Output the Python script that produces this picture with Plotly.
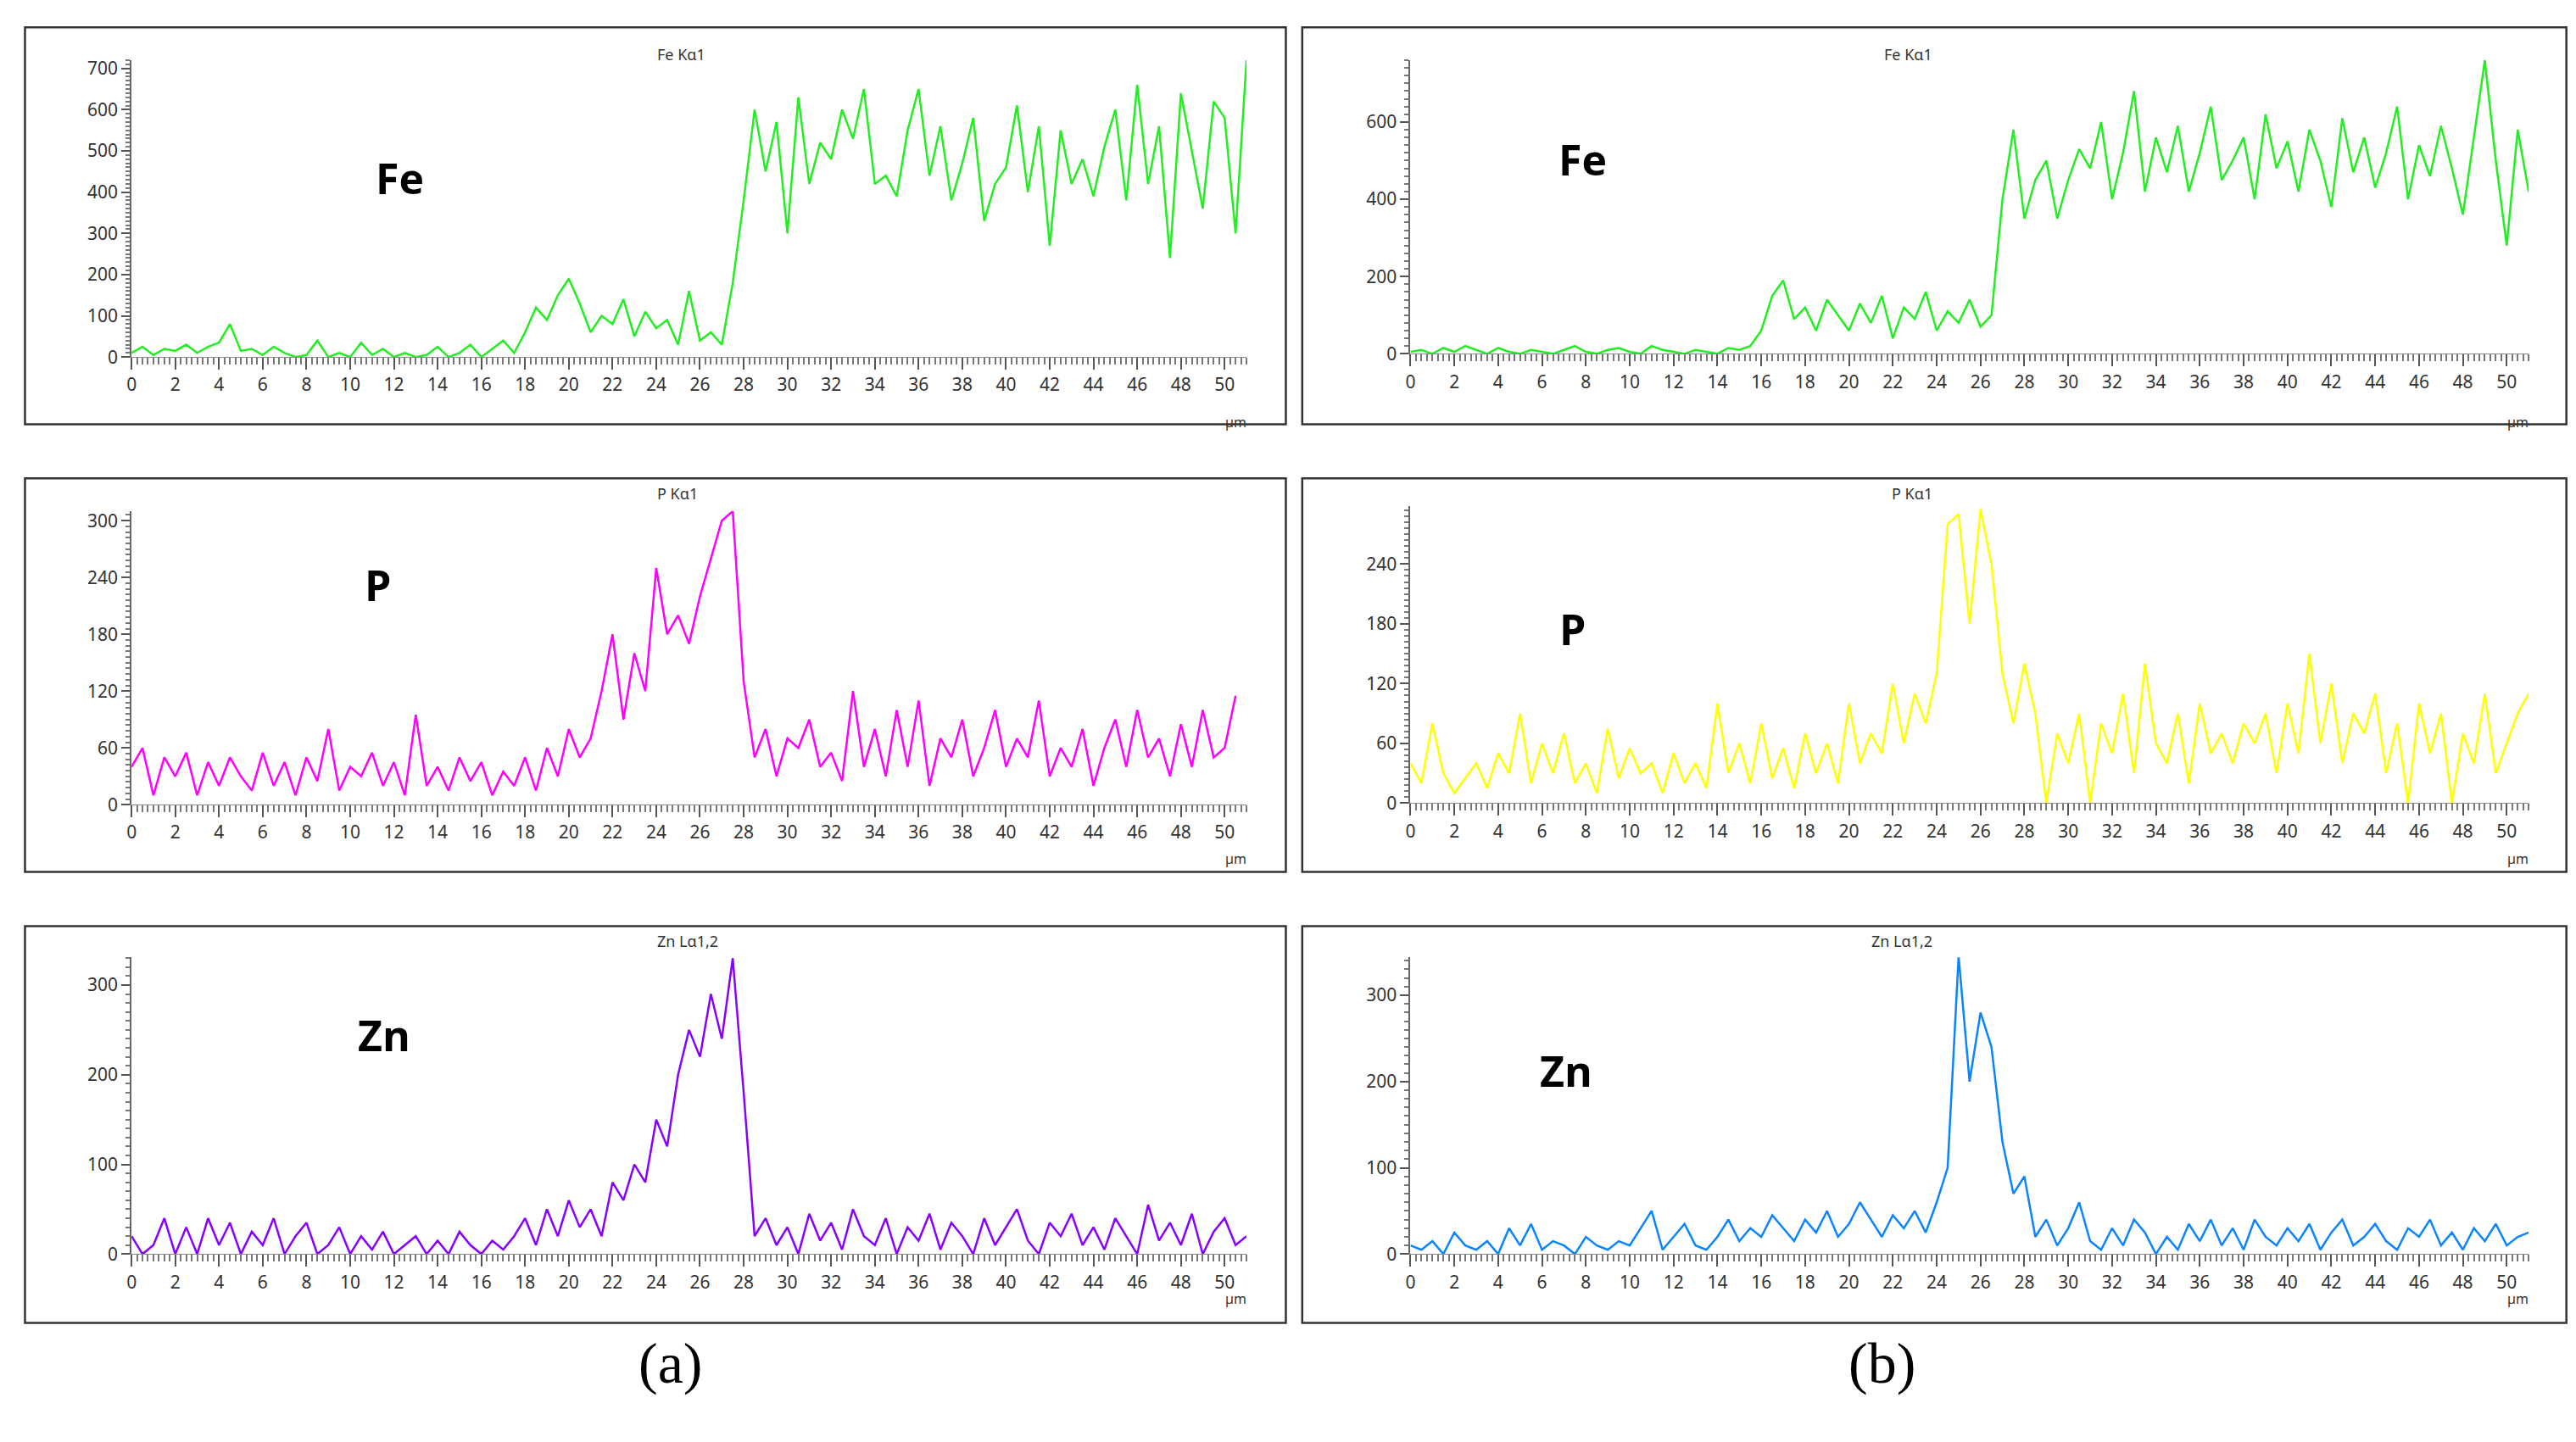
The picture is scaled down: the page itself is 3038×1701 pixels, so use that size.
import numpy as np
import plotly.graph_objects as go

fe_a = [10,25,5,20,15,30,10,25,35,80,15,20,5,25,10,0,5,40,0,10,0,35,5,20,0,10,0,5,25,0,10,30,0,20,40,10,
        60,120,90,150,190,130,60,100,80,140,50,110,70,90,30,160,40,60,30,180,
        380,600,450,570,300,630,420,520,480,600,530,650,420,440,390,550,650,440,560,380,470,580,330,420,
        460,610,400,560,270,550,420,480,390,510,600,380,660,420,560,240,640,500,360,620,580,300,720,420]
fe_b = [5,10,0,15,5,20,10,0,15,5,0,10,5,0,10,20,5,0,10,15,5,0,20,10,5,0,10,5,0,15,10,20,
        60,150,190,90,120,60,140,100,60,130,80,150,40,120,90,160,60,110,80,140,70,100,
        400,580,350,450,500,350,450,530,480,600,400,520,680,420,560,470,590,420,520,640,450,500,560,400,
        620,480,550,420,580,500,380,610,470,560,430,520,640,400,540,460,590,480,360,560,760,500,280,580,420,470]
p_a = [40,60,10,50,30,55,10,45,20,50,30,15,55,20,45,10,50,25,80,15,40,30,55,20,45,10,95,20,40,15,50,25,45,10,35,20,50,15,60,30,
       80,50,70,120,180,90,160,120,250,180,200,170,220,260,300,310,
       130,50,80,30,70,60,90,40,55,25,120,40,80,30,100,40,110,20,70,50,90,30,60,100,40,70,50,110,30,60,40,80,20,60,90,40,100,50,70,30,85,40,100,50,60,115]
p_b = [40,20,80,30,10,25,40,15,50,30,90,20,60,30,70,20,40,10,75,25,55,30,40,10,50,20,40,15,100,30,60,20,80,25,55,15,70,30,60,20,
       100,40,70,50,120,60,110,80,130,
       280,290,180,295,240,
       130,80,140,90,
       0,70,40,90,0,80,50,110,30,140,60,40,90,20,100,50,70,40,80,60,90,30,100,50,150,60,120,40,90,70,110,30,80,0,100,50,90,0,70,40,110,30,60,90,110]
zn_a = [20,0,10,40,0,30,0,40,10,35,0,25,10,40,0,20,35,0,10,30,0,20,5,25,0,10,20,0,15,0,25,10,0,15,5,20,
        40,10,50,20,60,30,50,20,
        80,60,100,80,
        150,120,200,250,220,290,240,330,
        180,
        20,40,10,30,0,45,15,35,5,50,20,10,40,0,30,15,45,5,35,20,0,40,10,30,50,15,0,35,20,45,10,30,5,40,20,0,55,15,35,10,45,0,25,40,10,20]
zn_b = [10,5,15,0,25,10,5,15,0,30,10,35,5,15,10,0,20,10,5,15,10,30,50,5,20,35,10,5,20,40,15,30,20,45,30,15,40,25,50,20,35,60,40,20,45,30,50,25,
        60,100,
        345,200,280,240,
        130,70,90,20,
        40,10,30,60,15,5,30,10,40,25,0,20,5,35,15,40,10,30,5,40,20,10,30,15,35,5,25,40,10,20,35,15,5,30,20,40,10,25,5,30,15,35,10,20,25]

titles = ["Fe Kα1", "P Kα1", "Zn Lα1,2"]
elements = ["Fe", "P", "Zn"]
series = [[fe_a, fe_b], [p_a, p_b], [zn_a, zn_b]]
colors = [["#22EE22", "#22EE22"], ["#FF00FF", "#FFFF00"], ["#8800FF", "#0A84FF"]]
y_ranges = [[720, 760], [310, 298], [331, 344]]
y_dticks = [[100, 200], [60, 60], [100, 100]]

W, H = 1568.0, 870.0
col_px = [(73, 753), (853, 1535)]
row_px = [[(211, 30), (209, 30)], [(484, 305), (483, 302)], [(758, 577), (758, 577)]]
box_x = [(8, 777), (787, 1558)]
box_y = [(10, 252), (285, 525), (558, 800)]
label_pos = [[(221, 83), (958, 72)], [(214, 350), (952, 377)], [(210, 643), (948, 665)]]

fig = go.Figure()
layout = dict(width=3038, height=1701, margin=dict(l=0, r=0, t=0, b=0),
              paper_bgcolor="white", plot_bgcolor="white", showlegend=False)
shapes, annotations = [], []
tickfont = dict(family="Noto Sans", size=21, color="#333333")
k = 0
for r in range(3):
    for c in range(2):
        k += 1
        xs = "x" if k == 1 else f"x{k}"
        ys = "y" if k == 1 else f"y{k}"
        yvals = series[r][c]
        xvals = np.arange(len(yvals)) * 0.5
        fig.add_trace(go.Scatter(x=xvals, y=yvals, mode="lines",
                                 line=dict(color=colors[r][c], width=2.5),
                                 xaxis=xs, yaxis=ys))
        x0, x1 = col_px[c]
        yb, yt = row_px[r][c]
        layout["xaxis" if k == 1 else f"xaxis{k}"] = dict(
            domain=[x0 / W, x1 / W], range=[0, 51], anchor=ys,
            dtick=2, ticks="outside", ticklen=14, tickwidth=2, tickcolor="#555", showgrid=False,
            zeroline=False, showline=True, linecolor="#888", linewidth=1,
            tickfont=tickfont,
            minor=dict(dtick=0.25, ticks="outside", ticklen=8, tickwidth=1.5, tickcolor="#777", showgrid=False))
        layout["yaxis" if k == 1 else f"yaxis{k}"] = dict(
            domain=[1 - yb / H, 1 - yt / H], range=[0, y_ranges[r][c]], anchor=xs,
            dtick=y_dticks[r][c], ticks="outside", ticklen=10, tickwidth=2, tickcolor="#555",
            showgrid=False, zeroline=False, showline=True, linecolor="#666",
            linewidth=2, tickfont=tickfont,
            minor=dict(dtick=y_dticks[r][c] / 10, ticks="outside", ticklen=5, tickwidth=1.5,
                       tickcolor="#777", showgrid=False))
        bx0, bx1 = box_x[c]
        by0, by1 = box_y[r]
        shapes.append(dict(type="rect", xref="paper", yref="paper",
                           x0=bx0 / W, x1=bx1 / W, y0=1 - by1 / H, y1=1 - by0 / H,
                           line=dict(color="#333", width=2.5)))
        annotations.append(dict(text=titles[r], xref="paper", yref="paper",
                                x=(bx0 + bx1) / 2 / W, y=1 - (by0 + 9) / H,
                                showarrow=False, font=dict(family="Noto Sans", size=18, color="#333")))
        annotations.append(dict(text="µm", xref="paper", yref="paper",
                                x=(x1 + 1) / W, y=1 - (by1 - 8) / H, xanchor="right",
                                showarrow=False, font=dict(family="Noto Sans", size=16, color="#333")))
        lx, ly = label_pos[r][c]
        annotations.append(dict(text="<b>" + elements[r] + "</b>", xref="paper", yref="paper",
                                x=lx / W, y=1 - ly / H, showarrow=False,
                                font=dict(family="Open Sans", size=50, color="black")))
for txt, xp in [("(a)", 381), ("(b)", 1162)]:
    annotations.append(dict(text=txt, xref="paper", yref="paper", x=xp / W, y=1 - 845 / H,
                            showarrow=False, font=dict(family="Liberation Serif", size=68, color="black")))
layout["shapes"] = shapes
layout["annotations"] = annotations
fig.update_layout(**layout)
fig.write_html("out.html")
